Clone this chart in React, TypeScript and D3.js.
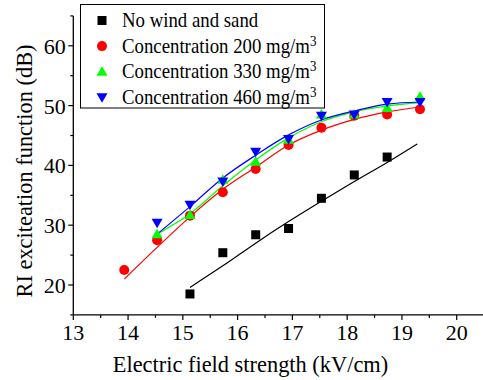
import React from 'react'
import * as d3 from 'd3'

// measured x positions (kV/cm)
const xRed = [13.93, 14.53, 15.13, 15.73, 16.33, 16.93, 17.53, 18.13, 18.73, 19.33]
const xMain = [14.53, 15.13, 15.73, 16.33, 16.93, 17.53, 18.13, 18.73, 19.33]
const xBlack = [15.13, 15.73, 16.33, 16.93, 17.53, 18.13, 18.73]

const noWind = [18.5, 25.4, 28.4, 29.45, 34.5, 38.4, 41.4]
const conc200 = [22.5, 27.5, 31.6, 35.5, 39.4, 43.4, 46.3, 48.3, 48.5, 49.4]
const conc330 = [28.5, 31.7, 37.6, 40.6, 44.3, 48.5, 48.5, 49.6, 51.5]
const conc460 = [30.4, 33.4, 37.3, 42.3, 44.4, 48.3, 48.5, 50.6, 50.6]

// fitted curves
const fitXBlack = [15.13, 15.73, 16.33, 16.93, 17.53, 18.13, 18.73, 19.28]
const fitBlack = [19.6, 23.2, 27.0, 30.6, 34.0, 37.3, 40.5, 43.6]
const fitXRed = [13.93, 14.53, 15.13, 15.73, 16.33, 16.93, 17.53, 18.13, 18.73, 19.4]
const fitRed = [21.0, 26.3, 31.4, 36.0, 39.7, 43.4, 45.9, 47.7, 48.95, 49.85]
const fitXMain = [14.53, 15.13, 15.73, 16.33, 16.93, 17.53, 18.13, 18.73, 19.35]
const fitGreen = [28.5, 31.9, 36.6, 40.9, 44.6, 47.3, 48.95, 49.95, 50.5]
const fitBlue = [28.5, 33.1, 37.9, 41.7, 45.1, 47.6, 49.1, 50.25, 50.6]

const xTicks = [13, 14, 15, 16, 17, 18, 19, 20]
const yTicks = [20, 30, 40, 50, 60]

const legendItems = [
  { label: 'No wind and sand', sup: '', color: '#000000', shape: 'square' },
  { label: 'Concentration 200 mg/m', sup: '3', color: '#ff0000', shape: 'circle' },
  { label: 'Concentration 330 mg/m', sup: '3', color: '#00ff00', shape: 'up' },
  { label: 'Concentration 460 mg/m', sup: '3', color: '#0000ff', shape: 'down' },
]

const W = 483
const H = 380
const font = "'Liberation Serif', 'Times New Roman', Times, serif"

const x = d3.scaleLinear().domain([13, 20]).range([73.3, 456.7])
const y = d3.scaleLinear().domain([15, 65]).range([314.9, 15.9])

const Marker = ({ shape, cx, cy, color }: { shape: string; cx: number; cy: number; color: string }) => {
  if (shape === 'square') return <rect x={cx - 4.5} y={cy - 4.5} width={9} height={9} fill={color} />
  if (shape === 'circle') return <circle cx={cx} cy={cy} r={5} fill={color} />
  if (shape === 'up')
    return <path d={`M${cx},${cy - 5.5}L${cx + 5.5},${cy + 4}L${cx - 5.5},${cy + 4}Z`} fill={color} />
  return <path d={`M${cx},${cy + 5.5}L${cx + 5.5},${cy - 4}L${cx - 5.5},${cy - 4}Z`} fill={color} />
}

export default function App() {
  const line = d3
    .line<[number, number]>()
    .x((d) => x(d[0]))
    .y((d) => y(d[1]))
    .curve(d3.curveMonotoneX)

  const fits = [
    { xs: fitXBlack, ys: fitBlack, color: '#000000' },
    { xs: fitXRed, ys: fitRed, color: '#ff0000' },
    { xs: fitXMain, ys: fitGreen, color: '#00ff00' },
    { xs: fitXMain, ys: fitBlue, color: '#0000ff' },
  ]

  const series = [
    { xs: xBlack, ys: noWind, color: '#000000', shape: 'square' },
    { xs: xRed, ys: conc200, color: '#ff0000', shape: 'circle' },
    { xs: xMain, ys: conc330, color: '#00ff00', shape: 'up' },
    { xs: xMain, ys: conc460, color: '#0000ff', shape: 'down' },
  ]

  const xMinor = d3.range(13.5, 20.6, 1)
  const yMinor = d3.range(15, 66, 10)

  return (
    <svg width={W} height={H} style={{ position: 'absolute', left: 0, top: 0, background: '#fff' }}>
      <g fontFamily={font}>
        {/* fit lines */}
        {fits.map((f, i) => (
          <path
            key={'f' + i}
            d={line(f.xs.map((v, j) => [v, f.ys[j]] as [number, number])) || ''}
            fill="none"
            stroke={f.color}
            strokeWidth={1.2}
          />
        ))}
        {/* markers */}
        {series.map((s, i) =>
          s.xs.map((v, j) => <Marker key={`m${i}-${j}`} shape={s.shape} cx={x(v)} cy={y(s.ys[j])} color={s.color} />)
        )}

        {/* axes */}
        <line x1={x(13)} x2={x(13)} y1={y(65)} y2={y(15)} stroke="#000" strokeWidth={1.3} />
        <line x1={x(13)} x2={483} y1={y(15)} y2={y(15)} stroke="#000" strokeWidth={1.3} />
        {yTicks.map((t) => (
          <g key={'yt' + t}>
            <line x1={x(13) - 5} x2={x(13)} y1={y(t)} y2={y(t)} stroke="#000" strokeWidth={1.2} />
            <text x={x(13) - 7.5} y={y(t)} dy="0.36em" textAnchor="end" fontSize={22}>
              {t}
            </text>
          </g>
        ))}
        {yMinor.map((t) => (
          <line key={'ym' + t} x1={x(13) - 3} x2={x(13)} y1={y(t)} y2={y(t)} stroke="#000" strokeWidth={1.2} />
        ))}
        {xTicks.map((t) => (
          <g key={'xt' + t}>
            <line x1={x(t)} x2={x(t)} y1={y(15)} y2={y(15) + 5} stroke="#000" strokeWidth={1.2} />
            <text x={x(t)} y={y(15) + 25.5} textAnchor="middle" fontSize={22}>
              {t}
            </text>
          </g>
        ))}
        {xMinor.map((t) => (
          <line key={'xm' + t} x1={x(t)} x2={x(t)} y1={y(15)} y2={y(15) + 3} stroke="#000" strokeWidth={1.2} />
        ))}

        {/* axis titles */}
        <text x={250.5} y={372} textAnchor="middle" fontSize={22.4}>
          Electric field strength (kV/cm)
        </text>
        <text transform={`translate(32,171) rotate(-90)`} textAnchor="middle" fontSize={22.4}>
          RI exciteation function (dB)
        </text>

        {/* legend */}
        <rect x={80.5} y={4.5} width={244} height={103.5} fill="#fff" stroke="#000" strokeWidth={1} />
        {legendItems.map((d, i) => {
          const cy = 20.5 + i * 25.6
          return (
            <g key={'l' + i}>
              <Marker shape={d.shape} cx={102} cy={cy} color={d.color} />
              <g transform={`translate(122,${cy + 6.5}) scale(1,1.15)`}>
                <text x={0} y={0} fontSize={18.8}>
                  {d.label}
                  {d.sup && (
                    <tspan dy="-0.45em" fontSize={13}>
                      {d.sup}
                    </tspan>
                  )}
                </text>
              </g>
            </g>
          )
        })}
      </g>
    </svg>
  )
}
